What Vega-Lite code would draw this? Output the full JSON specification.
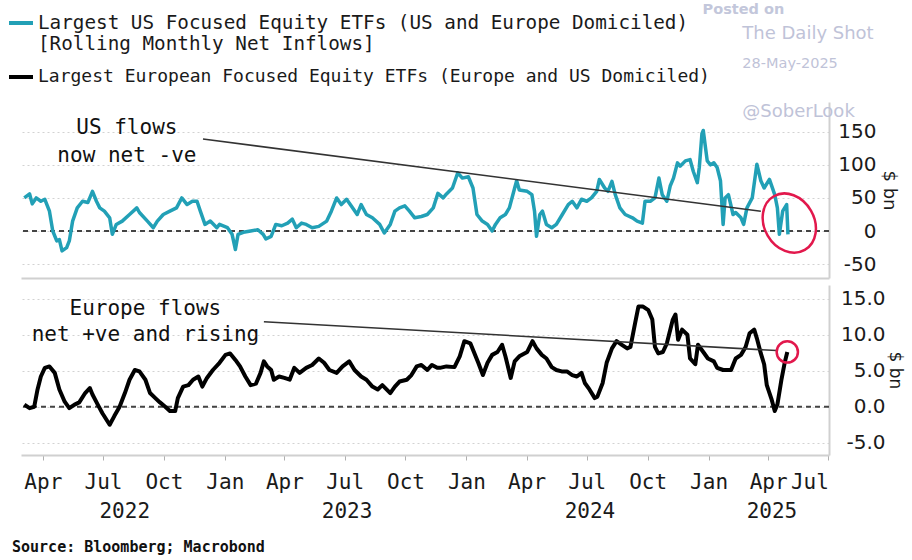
{
  "$schema": "https://vega.github.io/schema/vega-lite/v6.json",
  "background": "white",
  "padding": {"left": 7, "top": 1, "right": 6, "bottom": 4},
  "config": {"view": {"stroke": null}, "font": "DejaVu Sans Mono"},
  "title": {"text": "Source: Bloomberg; Macrobond", "orient": "bottom", "anchor": "start", "font": "DejaVu Sans Mono", "fontSize": 15, "fontWeight": "bold", "color": "#111111", "offset": 19, "dx": 5},
  "spacing": 7,
  "resolve": {"scale": {"color": "shared"}},
  "datasets": {
    "zero": [{"value": 0}],
    "us": [
      {"date":"2022-03-04","value":50},{"date":"2022-03-12","value":56},{"date":"2022-03-16","value":41},{"date":"2022-03-22","value":50},{"date":"2022-03-29","value":45},
      {"date":"2022-04-04","value":48},{"date":"2022-04-11","value":30},{"date":"2022-04-16","value":0},{"date":"2022-04-22","value":-15},{"date":"2022-04-26","value":-13},
      {"date":"2022-04-30","value":-30},{"date":"2022-05-07","value":-25},{"date":"2022-05-11","value":-15},{"date":"2022-05-16","value":15},{"date":"2022-05-23","value":35},
      {"date":"2022-05-31","value":45},{"date":"2022-06-08","value":43},{"date":"2022-06-15","value":60},{"date":"2022-06-21","value":45},{"date":"2022-06-26","value":35},
      {"date":"2022-07-03","value":30},{"date":"2022-07-11","value":20},{"date":"2022-07-15","value":-5},{"date":"2022-07-21","value":10},{"date":"2022-07-30","value":15},
      {"date":"2022-08-10","value":25},{"date":"2022-08-21","value":35},{"date":"2022-08-25","value":28},{"date":"2022-09-06","value":15},{"date":"2022-09-15","value":5},
      {"date":"2022-09-21","value":15},{"date":"2022-09-30","value":25},{"date":"2022-10-10","value":30},{"date":"2022-10-20","value":35},{"date":"2022-10-28","value":50},
      {"date":"2022-11-05","value":40},{"date":"2022-11-13","value":45},{"date":"2022-11-20","value":45},{"date":"2022-11-25","value":30},{"date":"2022-12-02","value":10},
      {"date":"2022-12-10","value":15},{"date":"2022-12-20","value":5},{"date":"2022-12-24","value":10},{"date":"2023-01-05","value":5},{"date":"2023-01-12","value":-5},
      {"date":"2023-01-17","value":-28},{"date":"2023-01-21","value":-5},{"date":"2023-01-29","value":-2},{"date":"2023-02-09","value":0},{"date":"2023-02-20","value":2},
      {"date":"2023-02-28","value":-5},{"date":"2023-03-04","value":-12},{"date":"2023-03-12","value":-8},{"date":"2023-03-19","value":10},{"date":"2023-03-28","value":8},
      {"date":"2023-04-06","value":12},{"date":"2023-04-13","value":18},{"date":"2023-04-19","value":5},{"date":"2023-04-27","value":12},{"date":"2023-05-04","value":10},
      {"date":"2023-05-13","value":5},{"date":"2023-05-23","value":7},{"date":"2023-06-04","value":15},{"date":"2023-06-11","value":30},{"date":"2023-06-19","value":50},
      {"date":"2023-06-26","value":40},{"date":"2023-07-04","value":48},{"date":"2023-07-13","value":35},{"date":"2023-07-20","value":25},{"date":"2023-07-26","value":40},
      {"date":"2023-08-03","value":25},{"date":"2023-08-12","value":20},{"date":"2023-08-23","value":10},{"date":"2023-08-30","value":-3},{"date":"2023-09-08","value":10},
      {"date":"2023-09-15","value":30},{"date":"2023-09-22","value":35},{"date":"2023-09-30","value":38},{"date":"2023-10-07","value":30},{"date":"2023-10-15","value":20},
      {"date":"2023-10-25","value":22},{"date":"2023-11-03","value":25},{"date":"2023-11-12","value":35},{"date":"2023-11-19","value":57},{"date":"2023-11-27","value":50},
      {"date":"2023-12-02","value":56},{"date":"2023-12-11","value":65},{"date":"2023-12-19","value":88},{"date":"2023-12-26","value":80},{"date":"2024-01-04","value":82},
      {"date":"2024-01-11","value":65},{"date":"2024-01-17","value":25},{"date":"2024-01-25","value":15},{"date":"2024-02-02","value":10},{"date":"2024-02-09","value":0},
      {"date":"2024-02-14","value":10},{"date":"2024-02-21","value":20},{"date":"2024-02-29","value":25},{"date":"2024-03-06","value":35},{"date":"2024-03-14","value":65},
      {"date":"2024-03-17","value":76},{"date":"2024-03-21","value":62},{"date":"2024-04-02","value":60},{"date":"2024-04-09","value":55},{"date":"2024-04-13","value":30},
      {"date":"2024-04-16","value":-8},{"date":"2024-04-21","value":25},{"date":"2024-04-25","value":30},{"date":"2024-05-01","value":10},{"date":"2024-05-09","value":5},
      {"date":"2024-05-16","value":10},{"date":"2024-05-25","value":25},{"date":"2024-06-03","value":40},{"date":"2024-06-09","value":45},{"date":"2024-06-16","value":35},
      {"date":"2024-06-23","value":48},{"date":"2024-07-01","value":45},{"date":"2024-07-08","value":50},{"date":"2024-07-16","value":60},{"date":"2024-07-20","value":78},
      {"date":"2024-07-28","value":65},{"date":"2024-08-02","value":60},{"date":"2024-08-08","value":75},{"date":"2024-08-13","value":55},{"date":"2024-08-20","value":35},
      {"date":"2024-08-28","value":25},{"date":"2024-09-08","value":20},{"date":"2024-09-15","value":15},{"date":"2024-09-23","value":12},{"date":"2024-09-27","value":45},
      {"date":"2024-10-05","value":45},{"date":"2024-10-12","value":50},{"date":"2024-10-18","value":80},{"date":"2024-10-23","value":55},{"date":"2024-10-30","value":45},
      {"date":"2024-11-04","value":68},{"date":"2024-11-09","value":80},{"date":"2024-11-15","value":103},{"date":"2024-11-19","value":98},{"date":"2024-11-27","value":106},
      {"date":"2024-12-04","value":108},{"date":"2024-12-09","value":90},{"date":"2024-12-15","value":73},{"date":"2024-12-18","value":96},{"date":"2024-12-22","value":147},
      {"date":"2024-12-24","value":152},{"date":"2024-12-27","value":129},{"date":"2024-12-30","value":106},{"date":"2025-01-04","value":100},{"date":"2025-01-09","value":103},
      {"date":"2025-01-14","value":96},{"date":"2025-01-19","value":76},{"date":"2025-01-23","value":10},{"date":"2025-01-26","value":50},{"date":"2025-01-31","value":55},
      {"date":"2025-02-07","value":25},{"date":"2025-02-11","value":28},{"date":"2025-02-19","value":20},{"date":"2025-02-23","value":10},{"date":"2025-02-28","value":35},
      {"date":"2025-03-08","value":50},{"date":"2025-03-15","value":101},{"date":"2025-03-21","value":76},{"date":"2025-03-26","value":65},{"date":"2025-04-03","value":78},
      {"date":"2025-04-11","value":55},{"date":"2025-04-15","value":35},{"date":"2025-04-18","value":-5},{"date":"2025-04-23","value":30},{"date":"2025-04-29","value":40},
      {"date":"2025-05-01","value":-5}
    ],
    "eu": [
      {"date":"2022-03-04","value":0.3},{"date":"2022-03-12","value":-0.2},{"date":"2022-03-19","value":0},{"date":"2022-03-24","value":2.4},{"date":"2022-03-29","value":4.2},
      {"date":"2022-04-04","value":5.4},{"date":"2022-04-11","value":5.6},{"date":"2022-04-19","value":4.7},{"date":"2022-04-26","value":2.4},{"date":"2022-05-04","value":0.7},
      {"date":"2022-05-11","value":-0.2},{"date":"2022-05-19","value":0.3},{"date":"2022-05-26","value":0.6},{"date":"2022-06-04","value":1.9},{"date":"2022-06-11","value":2.6},
      {"date":"2022-06-15","value":1.7},{"date":"2022-06-23","value":0.3},{"date":"2022-06-30","value":-0.9},{"date":"2022-07-11","value":-2.5},{"date":"2022-07-18","value":-1.3},
      {"date":"2022-07-26","value":0},{"date":"2022-08-03","value":1.9},{"date":"2022-08-10","value":3.75},{"date":"2022-08-18","value":5.1},{"date":"2022-08-25","value":4.9},
      {"date":"2022-09-03","value":3.75},{"date":"2022-09-10","value":1.9},{"date":"2022-09-18","value":1.2},{"date":"2022-09-25","value":0.6},{"date":"2022-10-03","value":0},
      {"date":"2022-10-10","value":-0.6},{"date":"2022-10-18","value":-0.6},{"date":"2022-10-22","value":1.2},{"date":"2022-10-30","value":2.8},{"date":"2022-11-07","value":3.0},
      {"date":"2022-11-14","value":3.75},{"date":"2022-11-22","value":4.2},{"date":"2022-11-28","value":2.8},{"date":"2022-12-05","value":4.0},{"date":"2022-12-14","value":5.1},
      {"date":"2022-12-24","value":6.1},{"date":"2023-01-02","value":7.2},{"date":"2023-01-09","value":7.4},{"date":"2023-01-17","value":6.5},{"date":"2023-01-24","value":5.6},
      {"date":"2023-02-01","value":4.2},{"date":"2023-02-09","value":3.0},{"date":"2023-02-17","value":3.2},{"date":"2023-02-24","value":4.7},{"date":"2023-03-01","value":6.3},
      {"date":"2023-03-06","value":5.6},{"date":"2023-03-12","value":5.1},{"date":"2023-03-16","value":3.75},{"date":"2023-03-24","value":4.2},{"date":"2023-04-01","value":4.0},
      {"date":"2023-04-09","value":3.75},{"date":"2023-04-16","value":5.4},{"date":"2023-04-24","value":4.7},{"date":"2023-05-04","value":5.4},{"date":"2023-05-13","value":5.8},
      {"date":"2023-05-23","value":6.7},{"date":"2023-05-31","value":6.1},{"date":"2023-06-08","value":5.1},{"date":"2023-06-19","value":4.7},{"date":"2023-06-28","value":5.6},
      {"date":"2023-07-08","value":6.3},{"date":"2023-07-16","value":5.1},{"date":"2023-07-26","value":4.2},{"date":"2023-08-03","value":3.75},{"date":"2023-08-12","value":2.8},
      {"date":"2023-08-20","value":2.4},{"date":"2023-08-27","value":3.0},{"date":"2023-09-08","value":1.9},{"date":"2023-09-15","value":2.8},{"date":"2023-09-22","value":3.5},
      {"date":"2023-10-03","value":3.75},{"date":"2023-10-10","value":4.4},{"date":"2023-10-18","value":5.6},{"date":"2023-10-25","value":5.8},{"date":"2023-11-03","value":5.1},
      {"date":"2023-11-10","value":5.8},{"date":"2023-11-18","value":5.4},{"date":"2023-11-22","value":5.4},{"date":"2023-12-02","value":5.6},{"date":"2023-12-14","value":5.5},
      {"date":"2023-12-22","value":7.0},{"date":"2023-12-29","value":9.1},{"date":"2024-01-07","value":8.8},{"date":"2024-01-11","value":7.9},{"date":"2024-01-19","value":6.1},
      {"date":"2024-01-26","value":4.4},{"date":"2024-02-02","value":6.1},{"date":"2024-02-09","value":7.2},{"date":"2024-02-17","value":7.6},{"date":"2024-02-24","value":8.6},
      {"date":"2024-02-29","value":7.0},{"date":"2024-03-03","value":5.9},{"date":"2024-03-08","value":4.0},{"date":"2024-03-14","value":6.3},{"date":"2024-03-21","value":7.0},
      {"date":"2024-04-02","value":7.6},{"date":"2024-04-10","value":9.1},{"date":"2024-04-16","value":8.1},{"date":"2024-04-24","value":7.2},{"date":"2024-05-01","value":6.7},
      {"date":"2024-05-09","value":5.5},{"date":"2024-05-16","value":5.1},{"date":"2024-05-24","value":4.9},{"date":"2024-06-01","value":4.9},{"date":"2024-06-09","value":4.4},
      {"date":"2024-06-16","value":4.2},{"date":"2024-06-23","value":4.7},{"date":"2024-06-28","value":3.3},{"date":"2024-07-05","value":2.4},{"date":"2024-07-13","value":1.2},
      {"date":"2024-07-17","value":1.4},{"date":"2024-07-25","value":3.3},{"date":"2024-07-31","value":6.1},{"date":"2024-08-08","value":8.1},{"date":"2024-08-15","value":9.1},
      {"date":"2024-08-23","value":8.6},{"date":"2024-08-31","value":8.1},{"date":"2024-09-05","value":8.3},{"date":"2024-09-12","value":11.6},{"date":"2024-09-17","value":13.9},
      {"date":"2024-09-24","value":13.9},{"date":"2024-10-02","value":13.4},{"date":"2024-10-08","value":12.1},{"date":"2024-10-12","value":8.3},{"date":"2024-10-17","value":7.4},
      {"date":"2024-10-24","value":7.6},{"date":"2024-10-30","value":8.8},{"date":"2024-11-08","value":12.1},{"date":"2024-11-12","value":12.8},{"date":"2024-11-16","value":9.3},
      {"date":"2024-11-22","value":10.7},{"date":"2024-11-30","value":10.0},{"date":"2024-12-04","value":6.7},{"date":"2024-12-12","value":5.9},{"date":"2024-12-16","value":8.6},
      {"date":"2024-12-24","value":7.6},{"date":"2024-12-31","value":6.7},{"date":"2025-01-09","value":6.3},{"date":"2025-01-14","value":5.4},{"date":"2025-01-23","value":5.1},
      {"date":"2025-02-04","value":5.1},{"date":"2025-02-11","value":6.7},{"date":"2025-02-19","value":7.2},{"date":"2025-02-26","value":8.3},{"date":"2025-03-04","value":10.2},
      {"date":"2025-03-11","value":10.7},{"date":"2025-03-15","value":9.5},{"date":"2025-03-21","value":7.4},{"date":"2025-03-26","value":5.9},{"date":"2025-03-30","value":3.0},
      {"date":"2025-04-06","value":1.1},{"date":"2025-04-11","value":-0.6},{"date":"2025-04-15","value":0.3},{"date":"2025-04-21","value":3.7},{"date":"2025-04-26","value":6.1},
      {"date":"2025-04-30","value":7.6}
    ],
    "trend": [
      {"panel":"US","date":"2022-11-29","value":139,"date2":"2025-03-21","value2":30},
      {"panel":"Europe","date":"2023-03-01","value":11.8,"date2":"2025-04-14","value2":7.8}
    ],
    "labels": [
      {"panel":"US","date":"2022-08-06","value":156,"text":"US flows"},
      {"panel":"US","date":"2022-08-06","value":114,"text":"now net -ve"},
      {"panel":"Europe","date":"2022-09-03","value":13.5,"text":"Europe flows"},
      {"panel":"Europe","date":"2022-09-03","value":10.0,"text":"net +ve and rising"}
    ],
    "circles": [
      {"panel":"US","date":"2025-05-03","value":12},
      {"panel":"Europe","date":"2025-04-30","value":7.6}
    ],
    "wm_big": [
      {"date":"2025-02-21","value":298,"text":"The Daily Shot"},
      {"date":"2025-02-21","value":180,"text":"@SoberLook"}
    ],
    "wm_posted": [
      {"date":"2024-12-23","value":334.5,"text":"Posted on"}
    ],
    "wm_date": [
      {"date":"2025-02-21","value":253,"text":"28-May-2025"}
    ]
  },
  "vconcat": [
    {
      "width": 808,
      "height": 176,
      "layer": [
        {
          "data": {"name": "zero"},
          "mark": {"type": "rule", "color": "#444444", "strokeDash": [5, 4], "strokeWidth": 2},
          "encoding": {"y": {"field": "value", "type": "quantitative", "scale": {"domain": [-71, 195], "nice": false, "zero": false}}}
        },
        {
          "data": {"name": "us"},
          "mark": {"type": "line", "strokeWidth": 3.5, "strokeJoin": "round"},
          "encoding": {
            "x": {"field": "date", "type": "temporal",
                  "scale": {"type": "utc", "domain": [{"year": 2022, "month": 2, "date": 27, "utc": true}, {"year": 2025, "month": 7, "date": 2, "utc": true}]},
                  "axis": {"labels": false, "ticks": false, "grid": false, "title": null, "domainColor": "#d0d0d0", "domainWidth": 2}},
            "y": {"field": "value", "type": "quantitative", "scale": {"domain": [-71, 195], "nice": false, "zero": false},
                  "axis": {"orient": "right", "values": [-50, -25, 0, 25, 50, 75, 100, 125, 150, 175],
                           "labelExpr": "datum.value % 50 === 0 ? toString(datum.value) : ''",
                           "grid": true, "gridColor": "#d2d2d2", "gridDash": [2, 3], "ticks": false,
                           "domainColor": "#d0d0d0", "domainWidth": 2,
                           "labelFont": "DejaVu Sans", "labelFontSize": 20, "labelColor": "#1a1a1a", "labelAlign": "right", "labelPadding": 47, "labelBaseline": "middle",
                           "title": "$ bn", "titleFont": "DejaVu Sans", "titleFontSize": 18, "titleFontWeight": "normal", "titleColor": "#1a1a1a", "titlePadding": 3}},
            "color": {"datum": "US", "scale": {"domain": ["US", "Europe"], "range": ["#22a0b6", "#000000"]},
                      "legend": {"orient": "none", "legendX": -14, "legendY": -93, "padding": 0, "direction": "vertical", "title": null,
                                 "symbolType": "stroke", "symbolStrokeWidth": 4, "symbolSize": 576,
                                 "labelFont": "DejaVu Sans Mono", "labelFontSize": 19.5, "labelColor": "#1a1a1a", "labelLimit": 900, "labelOffset": 3, "rowPadding": 8,
                                 "labelExpr": "datum.value === 'US' ? ['Largest US Focused Equity ETFs (US and Europe Domiciled)', '[Rolling Monthly Net Inflows]'] : 'Largest European Focused Equity ETFs (Europe and US Domiciled)'",
                                 "encode": {"labels": {"update": {"fontSize": {"signal": "datum.value === 'US' ? 19.3 : 18"}}}}}}
          }
        },
        {
          "data": {"name": "trend"},
          "transform": [{"filter": "datum.panel === 'US'"}],
          "mark": {"type": "rule", "color": "#333333", "strokeWidth": 1.6},
          "encoding": {
            "x": {"field": "date", "type": "temporal"},
            "x2": {"field": "date2"},
            "y": {"field": "value", "type": "quantitative"},
            "y2": {"field": "value2"}
          }
        },
        {
          "data": {"name": "labels"},
          "transform": [{"filter": "datum.panel === 'US'"}],
          "mark": {"type": "text", "font": "DejaVu Sans Mono", "fontSize": 21, "color": "#111111", "align": "center", "baseline": "middle"},
          "encoding": {
            "x": {"field": "date", "type": "temporal"},
            "y": {"field": "value", "type": "quantitative"},
            "text": {"field": "text"}
          }
        },
        {
          "data": {"name": "circles"},
          "transform": [{"filter": "datum.panel === 'US'"}],
          "mark": {"type": "point", "shape": "M 0 -1 A 0.806 1 0 1 1 0 1 A 0.806 1 0 1 1 0 -1 Z", "size": 3844, "angle": -30, "filled": false, "stroke": "#e2184c", "strokeWidth": 2.5, "opacity": 1},
          "encoding": {
            "x": {"field": "date", "type": "temporal"},
            "y": {"field": "value", "type": "quantitative"}
          }
        },
        {
          "data": {"name": "wm_big"},
          "mark": {"type": "text", "font": "DejaVu Sans", "fontSize": 18, "color": "#bfc3d8", "align": "left", "baseline": "middle"},
          "encoding": {
            "x": {"field": "date", "type": "temporal"},
            "y": {"field": "value", "type": "quantitative"},
            "text": {"field": "text"}
          }
        },
        {
          "data": {"name": "wm_posted"},
          "mark": {"type": "text", "font": "DejaVu Sans", "fontSize": 14.5, "fontWeight": "bold", "color": "#c3c7db", "align": "left", "baseline": "middle"},
          "encoding": {
            "x": {"field": "date", "type": "temporal"},
            "y": {"field": "value", "type": "quantitative"},
            "text": {"field": "text"}
          }
        },
        {
          "data": {"name": "wm_date"},
          "mark": {"type": "text", "font": "DejaVu Sans", "fontSize": 14.5, "color": "#bfc3d8", "align": "left", "baseline": "middle"},
          "encoding": {
            "x": {"field": "date", "type": "temporal"},
            "y": {"field": "value", "type": "quantitative"},
            "text": {"field": "text"}
          }
        }
      ]
    },
    {
      "width": 808,
      "height": 170,
      "resolve": {"axis": {"x": "independent"}},
      "layer": [
        {
          "data": {"name": "zero"},
          "mark": {"type": "rule", "color": "#444444", "strokeDash": [5, 4], "strokeWidth": 2},
          "encoding": {"y": {"field": "value", "type": "quantitative", "scale": {"domain": [-6.7, 16.9], "nice": false, "zero": false}}}
        },
        {
          "data": {"name": "eu"},
          "mark": {"type": "line", "strokeWidth": 4, "strokeJoin": "round"},
          "encoding": {
            "x": {"field": "date", "type": "temporal",
                  "scale": {"type": "utc", "domain": [{"year": 2022, "month": 2, "date": 27, "utc": true}, {"year": 2025, "month": 7, "date": 2, "utc": true}]},
                  "axis": {"values": [
                    {"year": 2022, "month": 4, "date": 1, "utc": true}, {"year": 2022, "month": 7, "date": 1, "utc": true}, {"year": 2022, "month": 10, "date": 1, "utc": true},
                    {"year": 2023, "month": 1, "date": 1, "utc": true}, {"year": 2023, "month": 4, "date": 1, "utc": true}, {"year": 2023, "month": 7, "date": 1, "utc": true}, {"year": 2023, "month": 10, "date": 1, "utc": true},
                    {"year": 2024, "month": 1, "date": 1, "utc": true}, {"year": 2024, "month": 4, "date": 1, "utc": true}, {"year": 2024, "month": 7, "date": 1, "utc": true}, {"year": 2024, "month": 10, "date": 1, "utc": true},
                    {"year": 2025, "month": 1, "date": 1, "utc": true}, {"year": 2025, "month": 4, "date": 1, "utc": true}, {"year": 2025, "month": 7, "date": 1, "utc": true}],
                    "format": "%b", "labelFont": "DejaVu Sans Mono", "labelFontSize": 21, "labelColor": "#1a1a1a", "labelOverlap": false,
                    "ticks": true, "tickSize": 5, "tickColor": "#b0b0b0", "labelPadding": 11, "grid": false, "title": null,
                    "domainColor": "#d0d0d0", "domainWidth": 2}},
            "y": {"field": "value", "type": "quantitative", "scale": {"domain": [-6.7, 16.9], "nice": false, "zero": false},
                  "axis": {"orient": "right", "values": [-5, -2.5, 0, 2.5, 5, 7.5, 10, 12.5, 15],
                           "labelExpr": "datum.value % 5 === 0 ? (datum.value < 0 ? '-' + format(-datum.value, '.1f') : format(datum.value, '.1f')) : ''",
                           "grid": true, "gridColor": "#d2d2d2", "gridDash": [2, 3], "ticks": false,
                           "domainColor": "#d0d0d0", "domainWidth": 2,
                           "labelFont": "DejaVu Sans", "labelFontSize": 20, "labelColor": "#1a1a1a", "labelAlign": "right", "labelPadding": 56, "labelBaseline": "middle",
                           "title": "$ bn", "titleFont": "DejaVu Sans", "titleFontSize": 17, "titleFontWeight": "normal", "titleColor": "#1a1a1a", "titlePadding": 0}},
            "color": {"datum": "Europe", "scale": {"domain": ["US", "Europe"], "range": ["#22a0b6", "#000000"]}, "legend": null}
          }
        },
        {
          "data": {"name": "trend"},
          "transform": [{"filter": "datum.panel === 'Europe'"}],
          "mark": {"type": "rule", "color": "#333333", "strokeWidth": 1.6},
          "encoding": {
            "x": {"field": "date", "type": "temporal", "axis": null},
            "x2": {"field": "date2"},
            "y": {"field": "value", "type": "quantitative"},
            "y2": {"field": "value2"}
          }
        },
        {
          "data": {"name": "labels"},
          "transform": [{"filter": "datum.panel === 'Europe'"}],
          "mark": {"type": "text", "font": "DejaVu Sans Mono", "fontSize": 21, "color": "#111111", "align": "center", "baseline": "middle"},
          "encoding": {
            "x": {"field": "date", "type": "temporal", "axis": null},
            "y": {"field": "value", "type": "quantitative"},
            "text": {"field": "text"}
          }
        },
        {
          "data": {"name": "circles"},
          "transform": [{"filter": "datum.panel === 'Europe'"}],
          "mark": {"type": "point", "shape": "circle", "size": 452, "filled": false, "stroke": "#e2184c", "strokeWidth": 2.5, "opacity": 1},
          "encoding": {
            "x": {"field": "date", "type": "temporal",
                  "axis": {"orient": "bottom", "values": [
                    {"year": 2022, "month": 8, "date": 2, "utc": true}, {"year": 2023, "month": 7, "date": 4, "utc": true},
                    {"year": 2024, "month": 7, "date": 5, "utc": true}, {"year": 2025, "month": 4, "date": 6, "utc": true}],
                    "format": "%Y", "offset": 40, "domain": false, "ticks": false, "grid": false, "labelPadding": 5,
                    "labelFont": "DejaVu Sans Mono", "labelFontSize": 21, "labelColor": "#1a1a1a", "labelFlush": false, "labelOverlap": false, "title": null}},
            "y": {"field": "value", "type": "quantitative"}
          }
        }
      ]
    }
  ]
}
